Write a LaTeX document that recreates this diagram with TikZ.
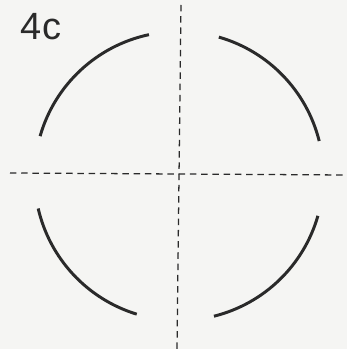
\documentclass[tikz,border=0pt]{standalone}
\usepackage{fontspec}
\setmainfont{Liberation Sans}
\usepackage{tikz}

\begin{document}
\begin{tikzpicture}[x=0.025cm, y=0.025cm]

% Colori
\definecolor{colCarta}{HTML}{F5F5F3}
\definecolor{colTratto}{HTML}{2A2A2A}

% Raggio del cerchio
\def\r{144.5}

% Sfondo (dimensioni del riquadro)
\fill[colCarta] (0,0) rectangle (347,349);
\useasboundingbox (0,0) rectangle (347,349);

% Centro
\coordinate (centro) at (179,173);

% Assi tratteggiati
\coordinate (asseN) at (181,344);
\coordinate (asseS) at (177,0);
\coordinate (asseO) at (10,176);
\coordinate (asseE) at (347,174);
\draw[colTratto, line width=0.9pt, dash pattern=on 4.5pt off 3.5pt] (asseN) -- (asseS);
\draw[colTratto, line width=0.9pt, dash pattern=on 4.5pt off 3.5pt] (asseO) -- (asseE);

% Archi
\draw[colTratto, line width=2.1pt] ([shift={(102:\r)}]centro) arc[start angle=102,end angle=164,radius=\r];
\draw[colTratto, line width=2.1pt] ([shift={(14:\r)}]centro) arc[start angle=14,end angle=74,radius=\r];
\draw[colTratto, line width=2.1pt] ([shift={(193:\r)}]centro) arc[start angle=193,end angle=253,radius=\r];
\draw[colTratto, line width=2.1pt] ([shift={(-76:\r)}]centro) arc[start angle=-76,end angle=-16,radius=\r];

% Titolo
\node[font=\fontsize{27}{30}\selectfont, text=colTratto, inner sep=0pt] (titolo) at (41,322) {4c};

\end{tikzpicture}
\end{document}
